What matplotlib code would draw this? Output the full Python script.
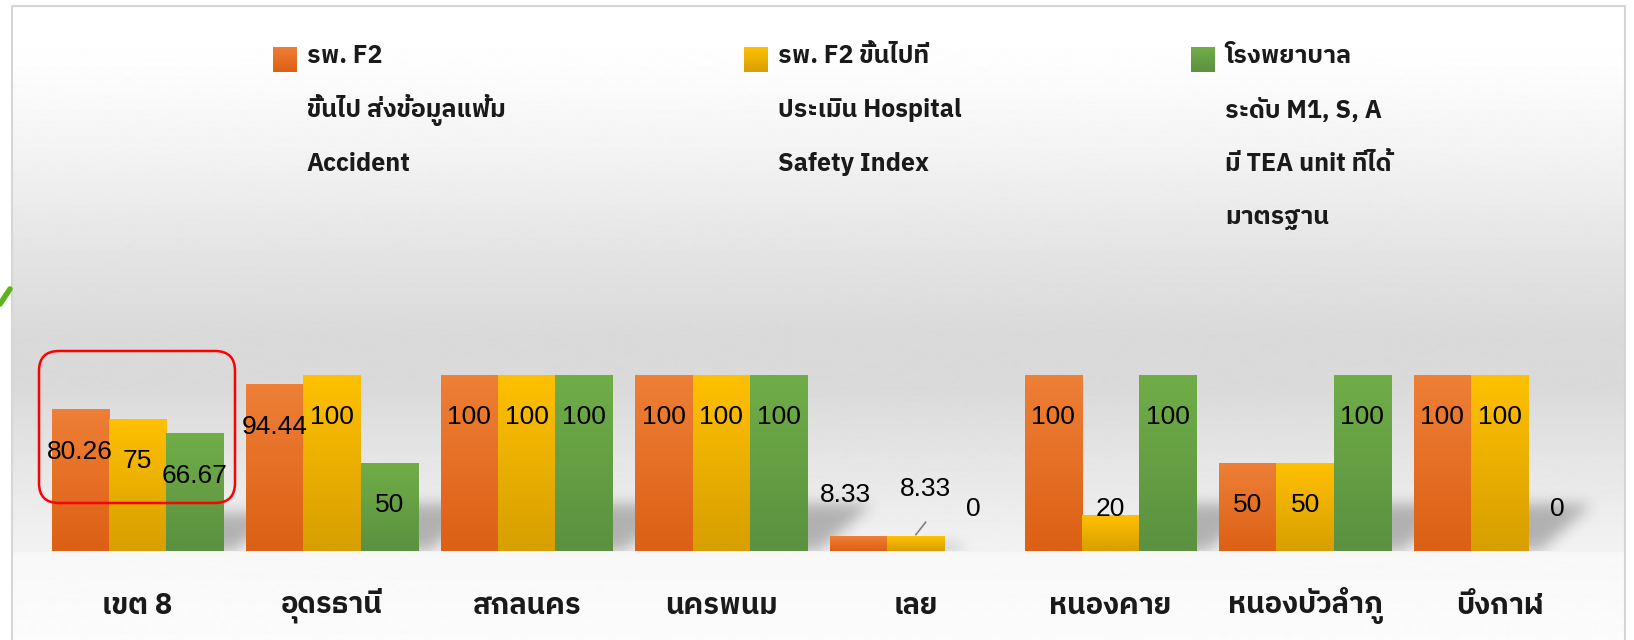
import numpy as np
import matplotlib
matplotlib.use('Agg')
import matplotlib.pyplot as plt
from matplotlib import font_manager
from matplotlib.ft2font import FT2Font
from matplotlib.patches import FancyBboxPatch
from matplotlib.colors import LinearSegmentedColormap


# data
categories = ['เขต 8', 'อุดรธานี', 'สกลนคร', 'นครพนม', 'เลย', 'หนองคาย', 'หนองบัวลำภู', 'บึงกาฬ']

f2_accident = [80.26, 94.44, 100, 100, 8.33, 100, 50, 100]
f2_hsi = [75, 100, 100, 100, 8.33, 20, 50, 100]
tea_unit = [66.67, 50, 100, 100, 0, 100, 100, 0]

legend_lines = [
    ['รพ. F2', 'ขึ้นไป ส่งข้อมูลแฟ้ม', 'Accident'],
    ['รพ. F2 ขึ้นไปที่', 'ประเมิน Hospital', 'Safety Index'],
    ['โรงพยาบาล', 'ระดับ M1, S, A', 'มี TEA unit ที่ได้', 'มาตรฐาน'],
]

# (top colour, bottom colour) of each series
bar_colors = [('#ee7f36', '#dc6015'), ('#ffc000', '#d79f00'), ('#70ad47', '#5b9140')]


#find a font that can draw Thai
def has_thai(path):
    try:
        return 0x0E01 in FT2Font(path).get_charmap()
    except Exception:
        return False

names = sorted({f.name for f in font_manager.fontManager.ttflist if has_thai(f.fname)},
               key=lambda n: ('Thai' not in n, 'Looped' in n, n))
thai_font = names[0] if names else 'DejaVu Sans'
plt.rcParams['font.family'] = [thai_font, 'DejaVu Sans']


W, H = 1634, 640
fig = plt.figure(figsize=(W / 100, H / 100), dpi=100)

#background panel in pixel coordinates
bg = fig.add_axes([0, 0, 1, 1])
rows = np.arange(6, H + 1)
stops_y = [6, 60, 150, 250, 330, 390, 460, 552, 553, 600, 640]
stops_v = [1.0, 0.995, 0.955, 0.895, 0.855, 0.855, 0.9, 0.95, 0.972, 0.98, 0.985]
shade = np.interp(rows, stops_y, stops_v)[:, None]
bg.imshow(shade, cmap='gray', vmin=0, vmax=1, extent=[12, 1625, H, 6], aspect='auto')
bg.plot([12, 12, 1625, 1625], [H, 6, 6, H], color='#d6d6d6', lw=1.5)
bg.plot([0, 10], [304, 289], color='#5bb31d', lw=4, solid_capstyle='round')

#legend
legend_x = [273, 744, 1191]
for k in range(3):
    cmap = LinearSegmentedColormap.from_list('c%d' % k, [bar_colors[k][1], bar_colors[k][0]])
    bg.imshow(np.linspace(0, 1, 50)[:, None], cmap=cmap, origin='lower',
              extent=[legend_x[k], legend_x[k] + 24, 72, 47], aspect='auto')
    for j, line in enumerate(legend_lines[k]):
        bg.text(legend_x[k] + 34, 56 + 54 * j, line, fontsize=18, fontweight='bold',
                ha='left', va='center', color='#1a1a1a')

bg.set_xlim(0, W)
bg.set_ylim(H, 0)
bg.axis('off')


#bars
ax = fig.add_axes([0, 0, 1, 1])
ax.patch.set_alpha(0)
x = np.arange(len(categories))
w = 0.2945
series = [f2_accident, f2_hsi, tea_unit]

#soft floor shadow to the right of each group (pixel grid, then blurred)
gy, gx = np.mgrid[-25:85, -25:110]
kern = np.exp(-0.5 * (np.arange(-21, 22) / 7.0) ** 2)
kern /= kern.sum()
for i in range(len(categories)):
    vals = [s[i] for s in series]
    last = max(k for k in range(3) if vals[k] > 0)
    right = x[i] + (last - 0.5) * w
    hs = 0.44 * max(vals) + 2
    mask = ((gy >= 0) & (gy <= hs) & (gx >= -20) & (gx <= 12 + 1.1 * gy)).astype(float)
    mask = np.apply_along_axis(lambda r: np.convolve(r, kern, 'same'), 1, mask)
    mask = np.apply_along_axis(lambda c: np.convolve(c, kern, 'same'), 0, mask)
    mask = mask[gy[:, 0] >= 0]
    img = np.zeros(mask.shape + (4,))
    img[..., 3] = 0.26 * mask
    ax.imshow(img, origin='lower', aspect='auto', zorder=1,
              extent=[right - 25 / 194.6, right + 110 / 194.6, 0, 85 / 1.76])

for k, vals in enumerate(series):
    top_c, bot_c = bar_colors[k]
    cmap = LinearSegmentedColormap.from_list('b%d' % k, [bot_c, top_c])
    bars = ax.bar(x + (k - 1) * w, vals, w, color=top_c, lw=0, zorder=2)
    for b in bars:
        if b.get_height() > 0:
            ax.imshow(np.linspace(0, 1, 100)[:, None], cmap=cmap, origin='lower', aspect='auto',
                      extent=[b.get_x(), b.get_x() + b.get_width(), 0, b.get_height()], zorder=3)

#data labels, inside the top of each bar, moved up when the bar is short
nudge = {(0, 4): (-0.07, 8), (1, 4): (0.05, 11)}
for k, vals in enumerate(series):
    for i, v in enumerate(vals):
        dx, dy = nudge.get((k, i), (0, 0))
        ly = max(v - 24, 24) + dy
        ax.text(x[i] + (k - 1) * w + dx, ly, '%g' % v, ha='center', va='center',
                fontsize=19, family='Liberation Sans', color='black', zorder=5)
# leader line of the moved label
ax.plot([x[4], x[4] + 0.05], [f2_hsi[4] + 1, f2_hsi[4] + 8], color='#7f7f7f', lw=1.2, zorder=5)

for i, c in enumerate(categories):
    ax.text(x[i], -31, c, ha='center', va='center', fontsize=21, fontweight='bold',
            color='#1a1a1a', zorder=5)

ax.set_xlim(-0.7066, 7.690)
ax.set_ylim(-50.57, 313.07)
ax.axis('off')

#red box round the first group
top = fig.add_axes([0, 0, 1, 1])
top.patch.set_alpha(0)
top.add_patch(FancyBboxPatch((39, 351), 196, 152, boxstyle='round,pad=0,rounding_size=20',
                             fill=False, edgecolor='#ff0000', lw=1.8))
top.set_xlim(0, W)
top.set_ylim(H, 0)
top.axis('off')

plt.savefig('out.png', dpi=100)
